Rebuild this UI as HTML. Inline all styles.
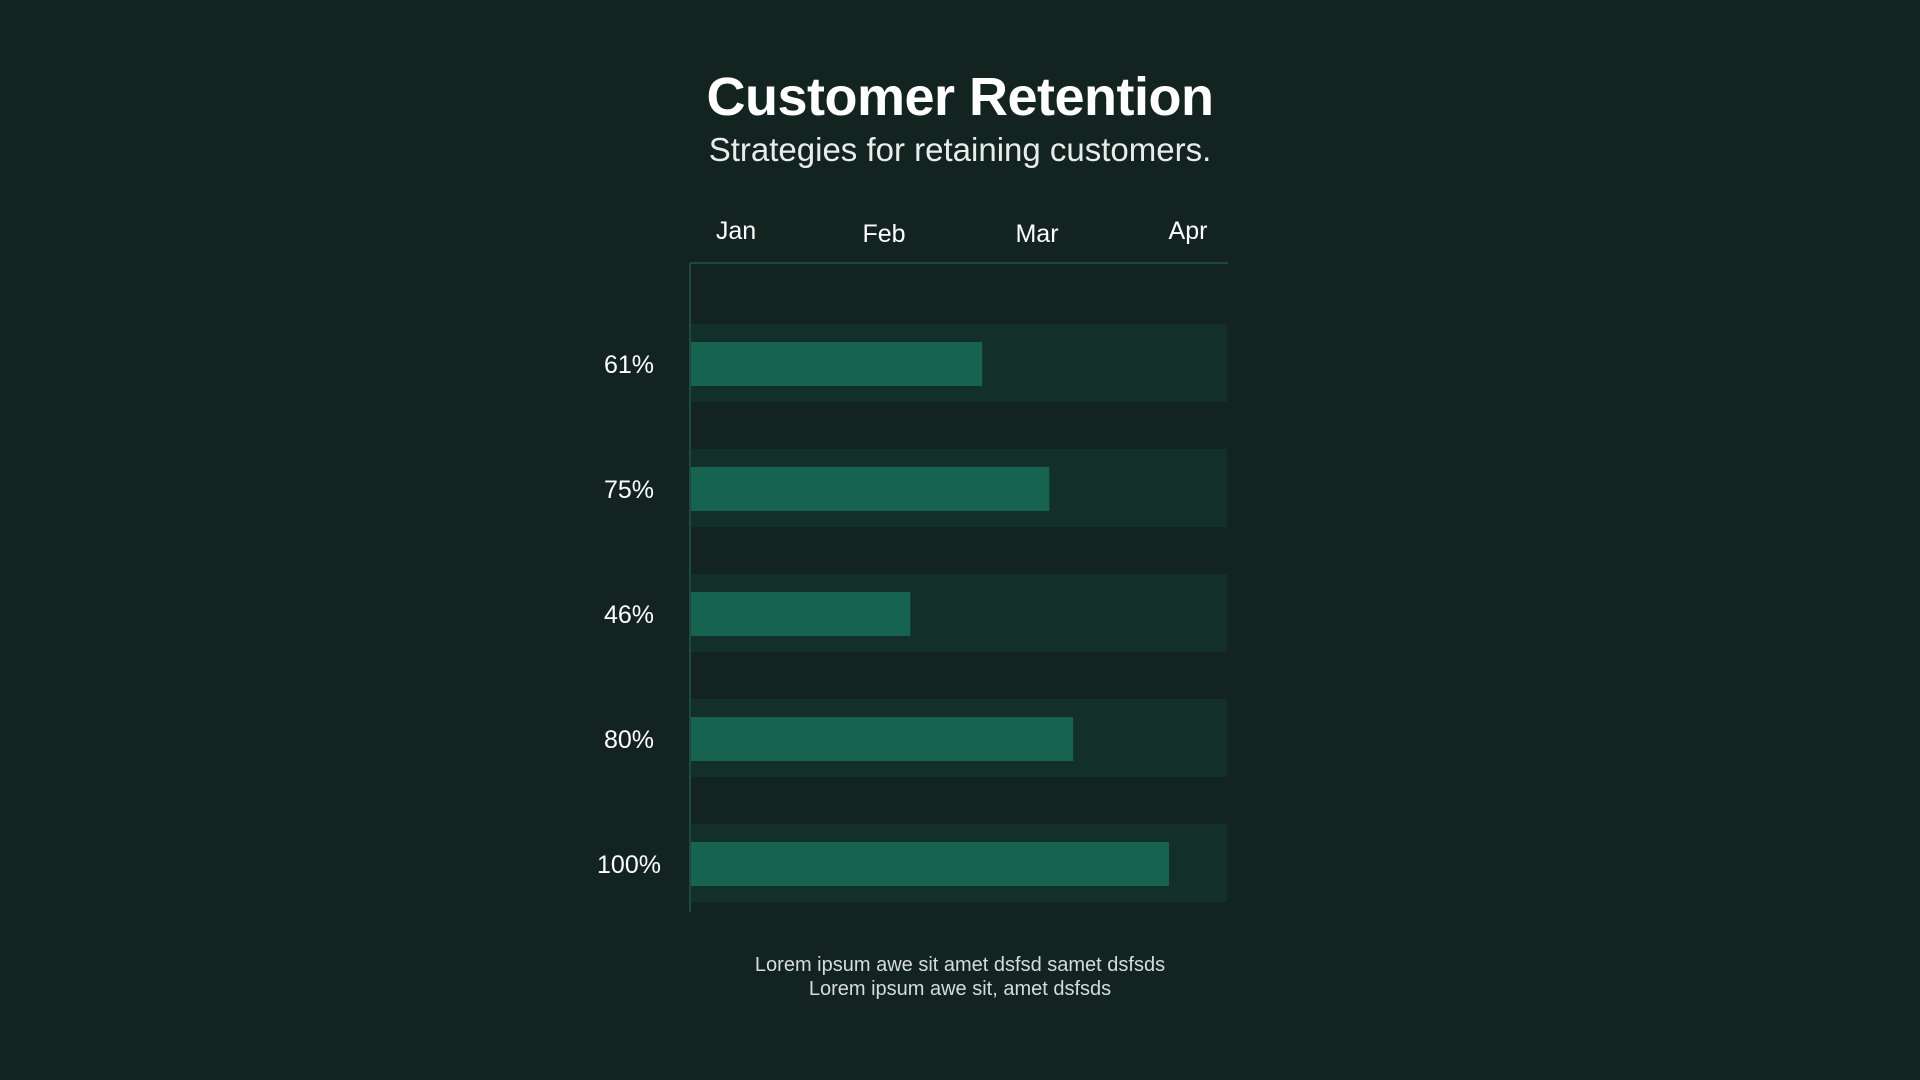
<!DOCTYPE html>
<html><head><meta charset="utf-8"><style>
html,body{margin:0;padding:0;background:#132320;width:1920px;height:1080px;overflow:hidden;font-family:"Liberation Sans",sans-serif;}
.t{position:absolute;left:0;width:1920px;text-align:center;color:#fff;}
</style></head><body>
<div class="t" style="top:66px;font-size:54px;font-weight:bold;letter-spacing:-0.5px;">Customer Retention</div>
<div class="t" style="top:131px;font-size:33px;color:#e8ecea;">Strategies for retaining customers.</div>
<svg id="chart" width="1920" height="1080" style="position:absolute;left:0;top:0"></svg>
<div class="t" style="top:953px;font-size:20px;line-height:24px;color:#d6dcda;">Lorem ipsum awe sit amet dsfsd samet dsfsds<br>Lorem ipsum awe sit, amet dsfsds</div>
<script>
const categories = ["61%","75%","46%","80%","100%"];
const values = [61,75,46,80,100];
const months = ["Jan","Feb","Mar","Apr"];
const NS="http://www.w3.org/2000/svg";
const svg=document.getElementById('chart');
const x0=690, pxPer=4.79, bgW=537;
const rowTop=324, rowStep=125, rowH=78, barOff=18, barH=44;
const xs=v=>x0+v*pxPer;
const yRow=i=>rowTop+i*rowStep;
function mk(t,a){const e=document.createElementNS(NS,t);for(const k in a)e.setAttribute(k,a[k]);svg.appendChild(e);return e;}
values.forEach((v,i)=>{
  const bg=mk('rect',{x:x0,y:yRow(i),width:bgW,height:rowH,fill:'#122f29'});
  
  
  const b=mk('rect',{x:x0,y:yRow(i)+barOff,width:xs(v)-x0,height:barH,fill:'#16634f'});
  
  
  const l=mk('text',{x:629,y:yRow(i)+rowH/2+10,'text-anchor':'middle',fill:'#fff','font-size':25,'font-family':'Liberation Sans, sans-serif'});
  l.textContent=categories[i];
  
  
});
const ax=mk('line',{x1:x0,y1:263,x2:x0,y2:912,stroke:'#1e4a3e','stroke-width':2});


const tx=mk('line',{x1:x0,y1:263,x2:1228,y2:263,stroke:'#1e4a3e','stroke-width':2});


const mX=[736,884,1037,1188];
const mY=[239,242,242,239];
months.forEach((m,i)=>{
  const t=mk('text',{x:mX[i],y:mY[i],'text-anchor':'middle',fill:'#fff','font-size':25,'font-family':'Liberation Sans, sans-serif'});
  t.textContent=m;
  
  
});
</script>
</body></html>
